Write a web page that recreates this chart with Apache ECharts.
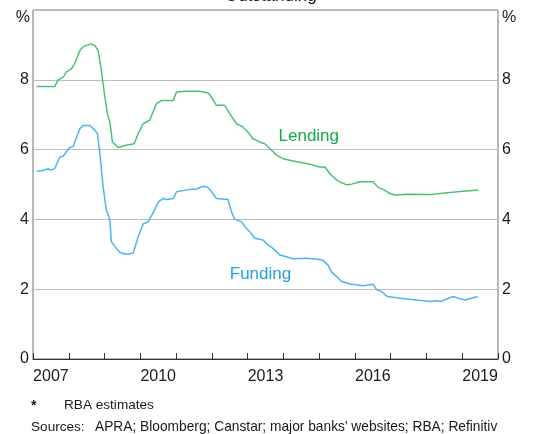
<!DOCTYPE html>
<html>
<head>
<meta charset="utf-8">
<script src="https://cdn.jsdelivr.net/npm/echarts@6/dist/echarts.min.js"></script>
<style>
  html, body { margin: 0; padding: 0; background: #fff; }
  #container { width: 534px; height: 434px; }
</style>
</head>
<body>
<div id="container"></div>
<script>
// x 轴类目（年份），每 3 年显示一个标签
const yearLabels = ['2007', '2008', '2009', '2010', '2011', '2012', '2013',
  '2014', '2015', '2016', '2017', '2018', '2019'];

// 贷款利率（小数年份, %）
const lendingYears = [2007.10, 2007.61, 2007.70, 2007.84, 2007.93, 2008.07, 2008.17, 2008.31,
  2008.40, 2008.63, 2008.73, 2008.82, 2008.91, 2009.01, 2009.08, 2009.15, 2009.22, 2009.38,
  2009.57, 2009.83, 2009.94, 2010.08, 2010.26, 2010.45, 2010.59, 2010.92, 2011.01, 2011.29,
  2011.66, 2011.90, 2011.99, 2012.13, 2012.36, 2012.50, 2012.69, 2012.87, 2013.01, 2013.15,
  2013.34, 2013.48, 2013.62, 2013.81, 2013.99, 2014.37, 2014.65, 2015.02, 2015.16, 2015.30,
  2015.44, 2015.58, 2015.77, 2015.91, 2016.14, 2016.51, 2016.65, 2016.79, 2016.98, 2017.12,
  2017.44, 2018.10, 2018.38, 2018.94, 2019.45];
const lendingRates = [7.81, 7.81, 8.00, 8.07, 8.22, 8.31, 8.47, 8.84,
  8.95, 9.03, 8.98, 8.84, 8.27, 7.50, 7.03, 6.79, 6.22, 6.06,
  6.12, 6.17, 6.46, 6.74, 6.84, 7.31, 7.41, 7.41, 7.65, 7.67,
  7.67, 7.62, 7.50, 7.27, 7.27, 7.03, 6.74, 6.65, 6.50, 6.31,
  6.22, 6.17, 6.03, 5.84, 5.74, 5.65, 5.60, 5.50, 5.50, 5.31,
  5.17, 5.07, 4.99, 5.01, 5.08, 5.08, 4.91, 4.86, 4.74, 4.70,
  4.72, 4.71, 4.74, 4.80, 4.84];

// 融资成本（小数年份, %）
const fundingYears = [2007.10, 2007.28, 2007.42, 2007.51, 2007.61, 2007.75, 2007.84, 2008.03,
  2008.12, 2008.31, 2008.40, 2008.59, 2008.73, 2008.80, 2008.87, 2008.96, 2009.05, 2009.15,
  2009.19, 2009.29, 2009.43, 2009.61, 2009.80, 2009.94, 2010.08, 2010.22, 2010.40, 2010.50,
  2010.64, 2010.73, 2010.92, 2011.01, 2011.38, 2011.57, 2011.76, 2011.90, 2011.99, 2012.13,
  2012.45, 2012.55, 2012.64, 2012.83, 2012.97, 2013.06, 2013.20, 2013.43, 2013.57, 2013.71,
  2013.90, 2013.99, 2014.27, 2014.65, 2015.02, 2015.11, 2015.25, 2015.35, 2015.49, 2015.63,
  2015.86, 2016.23, 2016.51, 2016.61, 2016.75, 2016.90, 2017.26, 2017.72, 2018.10, 2018.28,
  2018.42, 2018.56, 2018.75, 2018.89, 2019.08, 2019.26, 2019.43];
const fundingRates = [5.38, 5.40, 5.45, 5.41, 5.46, 5.79, 5.81, 6.06,
  6.09, 6.60, 6.69, 6.69, 6.55, 6.46, 5.89, 4.93, 4.27, 3.98,
  3.36, 3.22, 3.05, 3.00, 3.03, 3.50, 3.87, 3.93, 4.27, 4.50,
  4.60, 4.57, 4.60, 4.79, 4.86, 4.87, 4.95, 4.91, 4.79, 4.60,
  4.57, 4.22, 4.00, 3.93, 3.74, 3.65, 3.46, 3.41, 3.27, 3.17,
  2.98, 2.96, 2.87, 2.89, 2.85, 2.82, 2.69, 2.49, 2.36, 2.22,
  2.15, 2.10, 2.14, 1.98, 1.93, 1.79, 1.74, 1.69, 1.65, 1.67,
  1.65, 1.72, 1.79, 1.74, 1.69, 1.74, 1.79];

const FONT = '"Liberation Sans", Arial, sans-serif';
const zip = (xs, ys) => xs.map((x, i) => [x, ys[i]]);

const initEcharts = () => {
  const instance = echarts.init(document.getElementById('container'));
  const axisLabelStyle = { color: '#1a1a1a', fontSize: 16, fontFamily: FONT };

  const options = {
    animation: false,
    grid: {
      left: 33, right: 36, top: 10, bottom: 75,
      show: true,
      borderColor: '#707070',
      borderWidth: 1,
    },
    xAxis: [
      {
        // 年份标签在年中，刻度在年界
        type: 'category',
        data: yearLabels,
        boundaryGap: true,
        axisLine: { show: true, lineStyle: { color: '#333', width: 1 } },
        axisTick: { show: true, inside: true, length: 6, interval: 0, lineStyle: { color: '#333', width: 1 } },
        axisLabel: { ...axisLabelStyle, interval: 2, margin: 10 },
        splitLine: { show: false },
        z: 5,
      },
      {
        type: 'value',
        min: 2007,
        max: 2020,
        show: false,
      },
    ],
    yAxis: [
      {
        type: 'value', position: 'left', min: 0, max: 10, interval: 2,
        axisLine: { show: false },
        axisTick: { show: false },
        axisLabel: { ...axisLabelStyle, margin: 4, formatter: (v) => (v === 10 ? '' : v) },
        splitLine: { lineStyle: { color: '#bdbdbd', width: 1 } },
      },
      {
        type: 'value', position: 'right', min: 0, max: 10, interval: 2,
        axisLine: { show: false },
        axisTick: { show: false },
        axisLabel: { ...axisLabelStyle, margin: 4, formatter: (v) => (v === 10 ? '' : v) },
        splitLine: { show: false },
      },
    ],
    series: [
      {
        name: 'Lending',
        type: 'line',
        xAxisIndex: 1,
        yAxisIndex: 0,
        data: zip(lendingYears, lendingRates),
        showSymbol: false,
        lineStyle: { color: '#4cc175', width: 1.5 },
      },
      {
        name: 'Funding',
        type: 'line',
        xAxisIndex: 1,
        yAxisIndex: 0,
        data: zip(fundingYears, fundingRates),
        showSymbol: false,
        lineStyle: { color: '#4db6e8', width: 1.5 },
      },
    ],
  };
  instance.setOption(options);

  // 系列名称标注，按数据坐标定位
  const lendPos = instance.convertToPixel({ xAxisIndex: 1, yAxisIndex: 0 }, [2014.71, 6.37]);
  const fundPos = instance.convertToPixel({ xAxisIndex: 1, yAxisIndex: 0 }, [2013.36, 2.44]);
  const textFont = (size) => size + 'px ' + FONT;

  instance.setOption({
    graphic: [
      { type: 'text', left: 225, top: -12,
        style: { text: 'Outstanding*', fill: '#1a1a1a', font: textFont(17) } },
      { type: 'text', x: 30, y: 18,
        style: { text: '%', fill: '#1a1a1a', font: textFont(16), align: 'right', verticalAlign: 'middle' } },
      { type: 'text', x: 502, y: 18,
        style: { text: '%', fill: '#1a1a1a', font: textFont(16), align: 'left', verticalAlign: 'middle' } },
      { type: 'text', x: lendPos[0], y: lendPos[1],
        style: { text: 'Lending', fill: '#14a84e', font: textFont(17), align: 'center', verticalAlign: 'middle' } },
      { type: 'text', x: fundPos[0], y: fundPos[1],
        style: { text: 'Funding', fill: '#1fa2de', font: textFont(17), align: 'center', verticalAlign: 'middle' } },
      { type: 'text', x: 31, y: 406,
        style: { text: '*', fill: '#1a1a1a', font: 'bold ' + textFont(14), verticalAlign: 'middle' } },
      { type: 'text', x: 64, y: 405,
        style: { text: 'RBA estimates', fill: '#1a1a1a', font: textFont(13.6), verticalAlign: 'middle' } },
      { type: 'text', x: 31, y: 427,
        style: { text: 'Sources:', fill: '#1a1a1a', font: textFont(13.6), verticalAlign: 'middle' } },
      { type: 'text', x: 95, y: 427,
        style: { text: "APRA; Bloomberg; Canstar; major banks' websites; RBA; Refinitiv", fill: '#1a1a1a', font: textFont(13.75), verticalAlign: 'middle' } },
    ],
  });
};

initEcharts();
</script>
</body>
</html>
